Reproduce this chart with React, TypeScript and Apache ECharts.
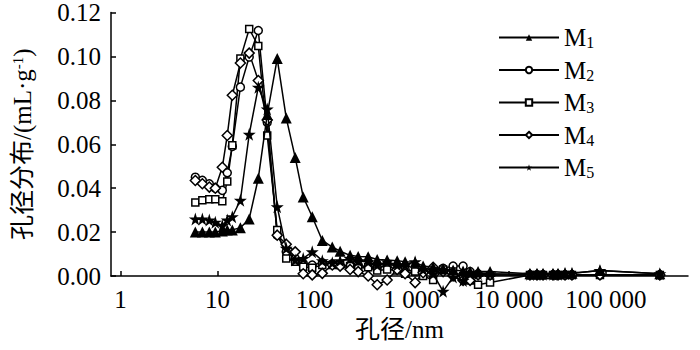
import React, { useEffect, useRef } from "react";
import * as echarts from "echarts";

const diameters = [5.91, 6.98, 8.23, 9.49, 11.2, 12.6, 14.2, 17.2, 21.2, 26.3, 32.5, 41.2, 51.0, 63.1, 76.3, 94.5, 120, 152, 183, 232, 281, 356, 441, 558, 708, 855, 1084, 1310, 1661, 2104, 2667, 3380, 3990, 4822, 6407, 16500, 19500, 22500, 28500, 32100, 37900, 44700, 86800, 359000];

const m1 = [0.020, 0.020, 0.020, 0.020, 0.0205, 0.021, 0.021, 0.022, 0.026, 0.0445, 0.0735, 0.099, 0.072, 0.054, 0.036, 0.027, 0.0162, 0.0132, 0.0113, 0.0094, 0.0089, 0.0088, 0.0075, 0.0073, 0.0070, 0.0065, 0.0063, 0.0045, 0.0040, 0.0032, 0.0027, 0.0023, 0.0021, 0.0020, 0.0020, 0.0010, 0.0010, 0.0010, 0.0010, 0.0010, 0.0012, 0.0012, 0.0025, 0.0010];
const m2 = [0.045, 0.0436, 0.042, 0.040, 0.039, 0.047, 0.059, 0.086, 0.0997, 0.1118, 0.070, 0.0186, 0.011, 0.008, 0.0058, 0.005, 0.006, 0.0055, 0.005, 0.0045, 0.005, 0.004, 0.004, 0.0045, 0.003, 0.003, 0.002, 0.0015, 0.002, 0.0035, 0.0045, 0.0045, 0.002, 0.001, 0.0005, 0.0005, 0.0005, 0.0005, 0.0005, 0.0005, 0.0005, 0.0005, 0.0005, 0.0005];
const m3 = [0.0335, 0.0345, 0.035, 0.035, 0.034, 0.043, 0.0595, 0.099, 0.1125, 0.1047, 0.064, 0.021, 0.008, 0.0065, 0.0042, 0.0038, 0.005, 0.005, 0.005, 0.0045, 0.0035, 0.004, 0.0025, 0.003, 0.0025, 0.001, 0.002, 0.0, -0.0018, 0.003, 0.002, 0.0, -0.002, -0.004, -0.003, 0.0005, 0.0005, 0.0005, 0.0005, 0.0005, 0.0005, 0.0005, 0.0005, 0.0005];
const m4 = [0.0435, 0.042, 0.0405, 0.040, 0.0495, 0.064, 0.0823, 0.097, 0.1015, 0.089, 0.071, 0.0186, 0.0145, 0.011, 0.001, 0.0005, 0.0012, 0.005, 0.0045, 0.003, 0.002, 0.0, -0.004, -0.0018, 0.003, 0.001, -0.003, 0.0015, 0.004, 0.002, 0.0, -0.002, -0.002, 0.0005, 0.0005, 0.0005, 0.0005, 0.0005, 0.0005, 0.0005, 0.0005, 0.0005, 0.0005, 0.0005];
const m5 = [0.026, 0.026, 0.0255, 0.0245, 0.023, 0.0255, 0.027, 0.0345, 0.0645, 0.086, 0.076, 0.0315, 0.0126, 0.0073, 0.008, 0.011, 0.007, 0.006, 0.007, 0.008, 0.007, 0.0065, 0.005, 0.0065, 0.005, 0.005, 0.0065, 0.003, 0.001, -0.007, -0.0005, -0.002, 0.001, 0.001, 0.001, 0.0008, 0.0008, 0.0008, 0.0008, 0.0008, 0.0012, 0.0012, 0.0025, 0.001];

const seriesNames = ["M1", "M2", "M3", "M4", "M5"];
const xTicks = [1, 10, 100, 1000, 10000, 100000];

const STAR = "path://M50,0 L61,35 L98,35 L68,57 L79,91 L50,70 L21,91 L32,57 L2,35 L39,35 Z";
const FONT = "'Liberation Serif', 'Times New Roman', 'Noto Sans CJK SC', serif";

function pairs(vals: number[]) {
  return vals.map((v, i) => [diameters[i], v]);
}

export default function App() {
  const ref = useRef<HTMLDivElement>(null);
  useEffect(() => {
    if (!ref.current) return;
    const chart = echarts.init(ref.current, null, { renderer: "svg" });
    const hollow = { color: "#fff", borderColor: "#000", borderWidth: 1.5 };
    const filled = { color: "#000", borderColor: "#000", borderWidth: 0 };
    const mk = (name: string, vals: number[], symbol: string, size: number, isFilled: boolean, z: number) => ({
      name,
      type: "line",
      data: pairs(vals),
      symbol,
      symbolSize: size,
      showAllSymbol: true,
      clip: false,
      z,
      lineStyle: { color: "#000", width: 1.5 },
      itemStyle: isFilled ? filled : hollow,
    });
    chart.setOption({
      animation: false,
      backgroundColor: "#fff",
      textStyle: { fontFamily: FONT },
      grid: { left: 111, right: 12, top: 12, bottom: 74, containLabel: false },
      legend: {
        data: seriesNames,
        orient: "vertical",
        left: 493,
        top: 20,
        itemWidth: 60,
        itemHeight: 8,
        itemGap: 7,
        formatter: (name: string) => `{m|M}{sub|${name.slice(1)}}`,
        textStyle: {
          fontFamily: FONT,
          color: "#000",
          rich: {
            m: { fontSize: 25, fontFamily: FONT, color: "#000", lineHeight: 24 },
            sub: { fontSize: 16, fontFamily: FONT, color: "#000", padding: [10, 0, 0, 0] },
          },
        },
      },
      xAxis: {
        type: "log",
        logBase: 10,
        min: 0.8,
        max: 700000,
        name: "孔径/nm",
        nameLocation: "middle",
        nameGap: 36,
        nameTextStyle: { fontSize: 25, fontFamily: FONT, color: "#000" },
        axisLine: { show: true, lineStyle: { color: "#000", width: 1.5 } },
        axisTick: { show: true, inside: true, length: 5, customValues: xTicks, lineStyle: { color: "#000", width: 1.5 } },
        axisLabel: {
          customValues: xTicks,
          fontSize: 25,
          fontFamily: FONT,
          color: "#000",
          margin: 11,
          formatter: (v: number) => String(Math.round(v)).replace(/\B(?=(\d{3})+(?!\d))/g, " "),
        },
        splitLine: { show: false },
        minorTick: { show: false },
      },
      yAxis: {
        type: "value",
        min: 0,
        max: 0.12,
        interval: 0.02,
        name: "{a|孔径分布/(mL·g}{sup|-1}{a|)}",
        nameLocation: "middle",
        nameGap: 76,
        nameTextStyle: {
          fontFamily: FONT,
          color: "#000",
          rich: {
            a: { fontSize: 25, fontFamily: FONT, color: "#000" },
            sup: { fontSize: 15, fontFamily: FONT, color: "#000", padding: [0, 0, 10, 0] },
          },
        },
        axisLine: { show: true, lineStyle: { color: "#000", width: 1.5 } },
        axisTick: { show: true, inside: true, length: 5, lineStyle: { color: "#000", width: 1.5 } },
        axisLabel: {
          fontSize: 25,
          fontFamily: FONT,
          color: "#000",
          margin: 10,
          formatter: (v: number) => v.toFixed(2),
        },
        splitLine: { show: false },
      },
      series: [
        mk("M1", m1, "triangle", 11, true, 4),
        mk("M2", m2, "circle", 8, false, 2),
        mk("M3", m3, "rect", 7, false, 2),
        mk("M4", m4, "diamond", 10, false, 2),
        mk("M5", m5, STAR, 13, true, 4),
      ],
    });
    return () => chart.dispose();
  }, []);
  return (
    <div
      ref={ref}
      style={{ position: "absolute", left: 0, top: 0, width: 700, height: 350, background: "#fff" }}
    />
  );
}
